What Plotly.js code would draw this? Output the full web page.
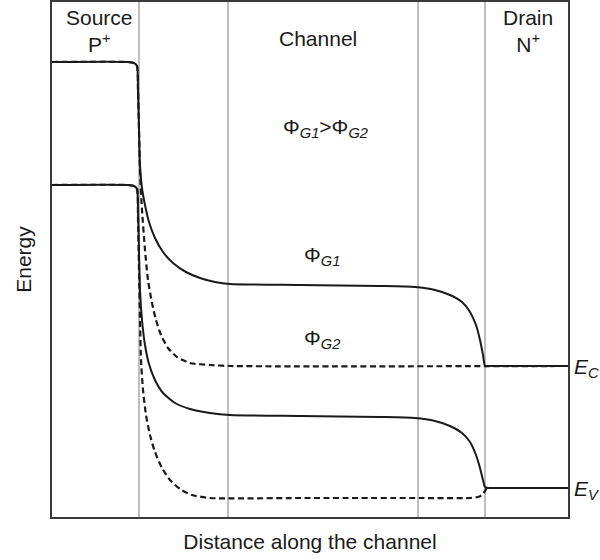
<!DOCTYPE html>
<html>
<head>
<meta charset="utf-8">
<script src="https://cdn.plot.ly/plotly-3.0.1.min.js"></script>
<style>
  html, body { margin: 0; padding: 0; background: #fff; }
  #chart { width: 600px; height: 560px; }
</style>
</head>
<body>
<div id="chart"></div>
<script>
// Band edges along the channel (distance, energy in arbitrary units)
// Conduction band edge, gate work function PhiG1
const ecG1Dist = [0, 76, 82, 85, 86, 87, 88, 90, 93, 97, 103, 111, 121, 134, 148, 163, 178, 248, 328, 363, 383, 398, 410, 418, 424, 428, 431, 433, 436, 442, 516];
const ecG1Energy = [455, 455, 454, 451, 427, 387, 352, 329, 312, 295, 279, 265, 254, 245, 239, 235, 233, 232, 231, 230, 227, 222, 215, 205, 192, 177, 162, 151, 151, 151, 151];

// Conduction band edge, gate work function PhiG2
const ecG2Dist = [0, 76, 82, 85, 86, 87, 88, 90, 93, 96, 100, 104, 109, 116, 125, 138, 158, 178, 516];
const ecG2Energy = [455, 455, 454, 451, 427, 387, 347, 307, 267, 237, 214, 197, 182, 169, 160, 154, 152, 151, 151];

// Valence band edge, PhiG1
const evG1Dist = [0, 76, 82, 85, 86, 87, 88, 90, 93, 97, 103, 111, 123, 138, 158, 178, 248, 328, 363, 383, 398, 410, 418, 424, 428, 431, 433, 436, 440, 446, 516];
const evG1Energy = [332, 332, 331, 328, 307, 267, 227, 197, 172, 153, 137, 124, 114, 108, 104, 102, 101, 100, 99, 96, 91, 84, 75, 62, 49, 37, 30, 29, 29, 29, 29];

// Valence band edge, PhiG2
const evG2Dist = [0, 76, 82, 85, 86, 87, 88, 89, 91, 94, 98, 103, 110, 118, 128, 140, 158, 248, 368, 418, 426, 430, 433, 435, 440, 448, 516];
const evG2Energy = [332, 332, 331, 328, 297, 247, 197, 157, 127, 102, 82, 65, 49, 37, 28, 22, 19, 19, 19, 19, 20, 22, 26, 29, 29, 29, 29];

// Region boundaries (source / channel / drain)
const boundaries = [87, 176, 366, 433];

const FONT = 'Liberation Sans, Arial, Helvetica, sans-serif';
const INK = '#1a1a1a';

const solid = { color: INK, width: 2, shape: 'spline', smoothing: 0.6 };
const dashed = { color: INK, width: 2.2, dash: '6px,3.5px', shape: 'spline', smoothing: 0.6 };

const traces = [
  { x: ecG2Dist, y: ecG2Energy, mode: 'lines', line: dashed, hoverinfo: 'skip' },
  { x: evG2Dist, y: evG2Energy, mode: 'lines', line: dashed, hoverinfo: 'skip' },
  { x: ecG1Dist, y: ecG1Energy, mode: 'lines', line: solid, hoverinfo: 'skip' },
  { x: evG1Dist, y: evG1Energy, mode: 'lines', line: solid, hoverinfo: 'skip' }
];

const shapes = boundaries.map(b => ({
  type: 'line', xref: 'x', yref: 'paper', x0: b, x1: b, y0: 0, y1: 1,
  layer: 'below', line: { color: '#a8a8a8', width: 1.5 }
}));

const txt = { family: FONT, size: 21, color: INK };
const ann = (x, y, text, extra) => Object.assign({
  x: x, y: y, xref: 'x', yref: 'y', text: text, showarrow: false,
  font: txt, xanchor: 'center', yanchor: 'middle'
}, extra || {});

const annotations = [
  ann(47, 486, 'Source<br>P<sup style="font-size:60%">+</sup>'),
  ann(266, 479, 'Channel'),
  ann(476, 486, 'Drain<br>N<sup style="font-size:60%">+</sup>'),
  ann(273, 389, 'Φ<sub><i>G1</i></sub>>Φ<sub><i>G2</i></sub>'),
  ann(270, 261, 'Φ<sub><i>G1</i></sub>'),
  ann(270, 178, 'Φ<sub><i>G2</i></sub>'),
  // band-edge labels sit just outside the right frame
  ann(1.008, 149, '<i>E<sub>C</sub></i>', { xref: 'paper', xanchor: 'left' }),
  ann(1.008, 27, '<i>E<sub>V</sub></i>', { xref: 'paper', xanchor: 'left' })
];

const layout = {
  width: 600, height: 560,
  margin: { l: 52, r: 32, t: 2, b: 43 },
  paper_bgcolor: '#fff', plot_bgcolor: '#fff',
  showlegend: false,
  font: txt,
  xaxis: {
    range: [0, 516], showgrid: false, zeroline: false, showticklabels: false, ticks: '',
    showline: true, mirror: true, linecolor: '#3a3a3a', linewidth: 2,
    title: { text: 'Distance along the channel', font: txt, standoff: 16 }
  },
  yaxis: {
    range: [0, 515], showgrid: false, zeroline: false, showticklabels: false, ticks: '',
    showline: true, mirror: true, linecolor: '#3a3a3a', linewidth: 2,
    title: { text: 'Energy', font: txt, standoff: 13 }
  },
  shapes: shapes,
  annotations: annotations
};

Plotly.newPlot('chart', traces, layout, { staticPlot: true, displayModeBar: false });
</script>
</body>
</html>
